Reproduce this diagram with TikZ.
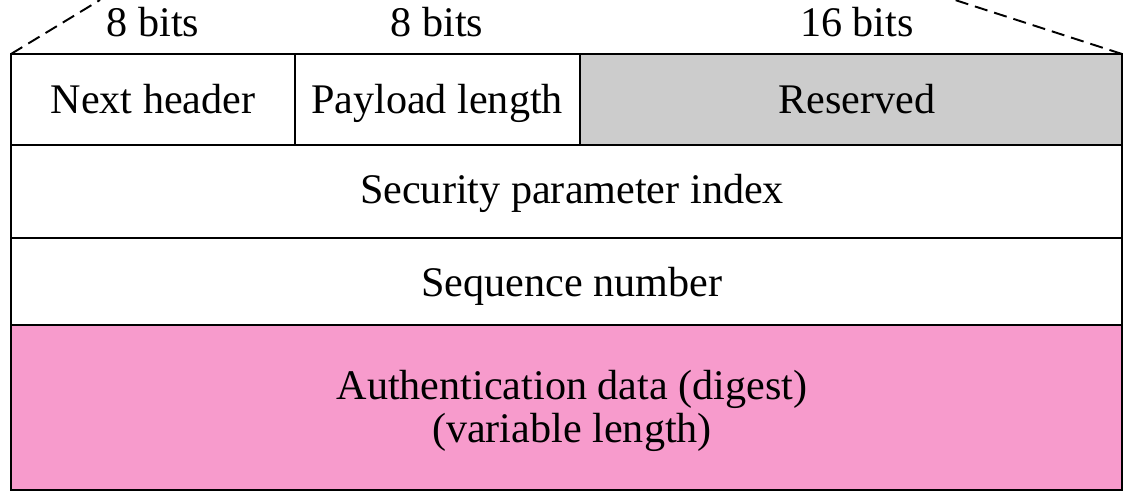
\documentclass[tikz,border=0pt]{standalone}
\usepackage{fontspec}
\setmainfont{Liberation Serif}
\definecolor{resgray}{RGB}{204,204,204}
\definecolor{authpink}{RGB}{247,155,204}
\begin{document}
\begin{tikzpicture}[x=0.02cm,y=-0.02cm,line width=1.5pt,
	every node/.style={font=\fontsize{24}{24}\selectfont,align=center,anchor=base}]
	\useasboundingbox (0,0) rectangle (1124,492);
			\fill[resgray] (580,54) rectangle (1122,145);
			\fill[authpink] (11,325) rectangle (1122,490);
			\draw (11,54) rectangle (295,145);
			\node (nxthdr) at (153,114) {Next header};
			\draw (295,54) rectangle (580,145);
			\node (paylen) at (437,114) {Payload length};
			\draw (580,54) rectangle (1122,145);
			\node (rsvd) at (857,114) {Reserved};
			\draw (11,145) rectangle (1122,238);
			\node (spi) at (572,204) {Security parameter index};
			\draw (11,238) rectangle (1122,325);
			\node (seqnum) at (572,297) {Sequence number};
			\draw (11,325) rectangle (1122,490);
			\node[anchor=center] (authdata) at (572,411) {Authentication data (digest)\\(variable length)};
			% field widths
			\node (bitsa) at (153,37) {8 bits};
			\node (bitsb) at (437,37) {8 bits};
			\node (bitsc) at (857,37) {16 bits};
			\coordinate (tl) at (100,0);
			\coordinate (tr) at (955,0);
			\draw[line width=1.1pt,dash pattern=on 7.5pt off 4pt] (nxthdr.base |- 0,54) ++(-142,0) -- (tl);
			\draw[line width=1.1pt,dash pattern=on 7.5pt off 4pt] (rsvd.base |- 0,54) ++(265,0) -- (tr);
	\end{tikzpicture}
\end{document}
